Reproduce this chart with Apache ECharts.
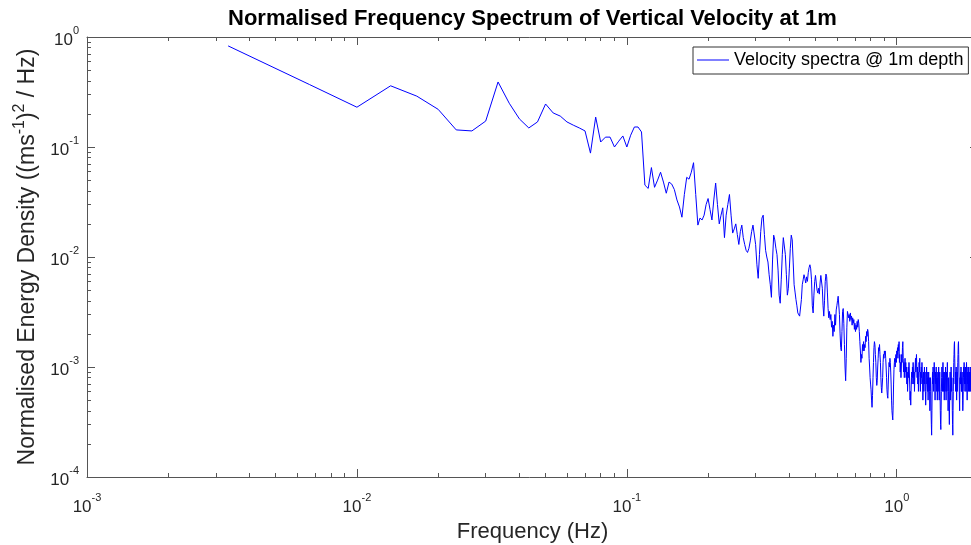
<!DOCTYPE html>
<html><head><meta charset="utf-8">
<script src="https://cdn.jsdelivr.net/npm/echarts@6/dist/echarts.min.js"></script>
<style>html,body{margin:0;padding:0;background:#fff}#c{width:971px;height:545px}</style>
</head><body><div id="c"></div>
<script>
const titleText = 'Normalised Frequency Spectrum of Vertical Velocity at 1m';
const seriesName = 'Velocity spectra @ 1m depth';
const xName = 'Frequency (Hz)';
const freqStep = 1 / 300; // spectral bin width (Hz)

// spectral values, bins 1..60
const specLow = [
 0.83,0.37,0.23,0.36,0.29,0.22,0.143,0.14,0.172,0.39,
 0.25,0.18,0.149,0.169,0.246,0.204,0.191,0.169,0.158,0.149,
 0.14,0.088,0.187,0.111,0.123,0.123,0.10,0.113,0.126,0.10,
 0.128,0.152,0.152,0.137,0.045,0.042,0.065,0.043,0.050,0.059,
 0.048,0.038,0.048,0.046,0.041,0.033,0.0285,0.023,0.037,0.053,
 0.051,0.059,0.072,0.037,0.0195,0.0226,0.0217,0.024,0.030,0.034
];
// bins 61..300
const specMid = [
 0.027,0.0217,0.033,0.047,0.030,0.020,0.024,0.028,0.015,0.024,
 0.030,0.037,0.024,0.0165,0.018,0.020,0.016,0.013,0.017,0.0195,
 0.015,0.013,0.0115,0.011,0.012,0.014,0.017,0.0195,0.020,0.013,
 0.0085,0.0064,0.0105,0.017,0.0226,0.024,0.016,0.0115,0.010,0.009,
 0.0069,0.0056,0.0043,0.0094,0.0158,0.0143,0.012,0.0105,0.0076,0.0045,
 0.0038,0.0062,0.0105,0.015,0.0155,0.0105,0.0069,0.0045,0.0052,0.0078,
 0.012,0.0158,0.0143,0.009,0.0056,0.0048,0.0041,0.0036,0.0031,0.0031,
 0.0029,0.00285,0.0041,0.0056,0.0062,0.0069,0.0064,0.0058,0.0066,0.0060,
 0.0072,0.0080,0.0085,0.0078,0.0062,0.0036,0.0031,0.0045,0.0060,0.0068,
 0.0058,0.0050,0.0047,0.0052,0.0046,0.0058,0.0068,0.0070,0.0052,0.0036,
 0.0029,0.0040,0.0060,0.0070,0.0066,0.0048,0.0034,0.0028,0.0032,0.0027,
 0.0030,0.0023,0.0026,0.0019,0.0024,0.0021,0.0030,0.0024,0.0033,0.0036,
 0.0040,0.0044,0.0043,0.0030,0.0020,0.0015,0.0014,0.0021,0.0032,0.0034,
 0.0025,0.0016,0.0010,0.00075,0.0012,0.0023,0.0032,0.0033,0.0028,0.0030,
 0.0026,0.0031,0.0027,0.0029,0.0024,0.0028,0.0025,0.0027,0.0022,0.0025,
 0.0021,0.0024,0.0022,0.0026,0.0023,0.0027,0.0025,0.0021,0.0017,0.0014,
 0.0011,0.0013,0.0012,0.0016,0.0014,0.0017,0.0014,0.0016,0.0015,0.0019,
 0.0017,0.0021,0.0019,0.0022,0.0021,0.0017,0.0012,0.0010,0.0008,0.0007,
 0.00062,0.0005,0.00043,0.00055,0.0008,0.0011,0.0015,0.0017,0.0016,0.0013,
 0.0011,0.0008,0.00068,0.00075,0.0010,0.0012,0.0015,0.0014,0.0016,0.0013,
 0.0011,0.0008,0.00065,0.00058,0.0006,0.0008,0.0011,0.0013,0.0012,0.0014,
 0.0013,0.0014,0.0012,0.0010,0.0008,0.00062,0.00055,0.00052,0.0007,0.0009,
 0.0011,0.0010,0.0012,0.0011,0.0009,0.0007,0.0005,0.0004,0.00036,0.00033,
 0.00045,0.0007,0.00095,0.0011,0.0012,0.0010,0.0012,0.0013,0.0011,0.0014
];
// bins 301..570
const specHigh = [
 0.0013,0.0015,0.0012,0.0016,0.0014,0.0017,0.0011,0.0013,0.0009,0.0011,
 0.0008,0.0010,0.0013,0.0011,0.0015,0.0017,0.0012,0.0009,0.0011,0.0008,
 0.0010,0.0012,0.0009,0.0011,0.0008,0.0010,0.0007,0.0009,0.0006,0.0008,
 0.0010,0.0008,0.0011,0.0009,0.0007,0.0005,0.0006,0.00045,0.0006,0.0008,
 0.0009,0.0007,0.0010,0.0008,0.0011,0.0009,0.0007,0.0009,0.0006,0.0008,
 0.0010,0.0012,0.0009,0.0011,0.0013,0.0010,0.0008,0.0010,0.0007,0.0009,
 0.0006,0.0008,0.0011,0.0009,0.0012,0.0008,0.0006,0.0009,0.0007,0.0010,
 0.0008,0.0011,0.0009,0.0007,0.0005,0.0007,0.0009,0.0006,0.0008,0.0010,
 0.0007,0.0009,0.0006,0.00045,0.0006,0.0008,0.0010,0.0007,0.0009,0.0006,
 0.0008,0.0005,0.0007,0.0009,0.0006,0.0008,0.0006,0.0004,0.0006,0.0008,
 0.0006,0.0004,0.0003,0.00024,0.0004,0.0007,0.0009,0.0007,0.0010,0.0008,
 0.0006,0.0008,0.0011,0.0009,0.0007,0.0005,0.0007,0.0009,0.0007,0.0010,
 0.0008,0.0006,0.0008,0.0005,0.0007,0.0009,0.0006,0.0008,0.0010,0.0007,
 0.0005,0.0007,0.0009,0.0006,0.0004,0.0003,0.00027,0.0004,0.0006,0.0008,
 0.0010,0.0008,0.0006,0.0008,0.0011,0.0008,0.0006,0.0009,0.0007,0.0005,
 0.0007,0.0009,0.0006,0.0008,0.0010,0.0007,0.0005,0.0007,0.0009,0.0006,
 0.0008,0.0011,0.0008,0.0006,0.0004,0.0006,0.0008,0.0006,0.0004,0.0003,
 0.0005,0.0007,0.0009,0.0007,0.0005,0.0007,0.0010,0.0008,0.0006,0.0008,
 0.0006,0.0004,0.0003,0.00024,0.0004,0.0006,0.0008,0.0011,0.0013,0.0016,
 0.0017,0.0012,0.0009,0.0007,0.0009,0.0006,0.0008,0.0010,0.0007,0.0005,
 0.0007,0.0009,0.0006,0.0008,0.0011,0.0013,0.0016,0.0017,0.0013,0.0009,
 0.0007,0.0005,0.0004,0.0006,0.0008,0.0007,0.0009,0.0007,0.0010,0.0008,
 0.0006,0.0008,0.0006,0.0009,0.0007,0.0005,0.0004,0.00045,0.0006,0.0008,
 0.0010,0.0008,0.0011,0.0009,0.0007,0.0009,0.0006,0.0008,0.0010,0.0007,
 0.0009,0.0006,0.0008,0.0011,0.0009,0.0007,0.0005,0.0007,0.0009,0.0007,
 0.0010,0.0008,0.0006,0.0008,0.0010,0.0007,0.0009,0.0006,0.0008,0.0007,
 0.0009,0.0006,0.0008,0.0010,0.0007,0.0008,0.0006,0.0009,0.0007,0.0008
];

const xMajorTicks = [0.001, 0.01, 0.1, 1];
const yMajorTicks = [0.0001, 0.001, 0.01, 0.1, 1];
const xRange = [0.001, 2];
const yRange = [0.0001, 1];

function minorTicksFor(majors, maxV) {
  const out = [];
  majors.forEach(m => { for (let j = 2; j <= 9; j++) { const v = +(m * j).toPrecision(6); if (v <= maxV) out.push(v); } });
  return out;
}
const xMinorTicks = minorTicksFor(xMajorTicks, xRange[1]);
const yMinorTicks = minorTicksFor(yMajorTicks.slice(0, -1), yRange[1]);

const spectrum = specLow.concat(specMid, specHigh);
const seriesData = spectrum.map((v, i) => [(i + 1) * freqStep, v]);

const FONT = "'Liberation Sans', Arial, Helvetica, sans-serif";
const AX = '#555555';
const TXT = '#262626';

function powLabel(v) {
  const e = Math.round(Math.log10(v));
  return '{b|10}{s|' + e + '}';
}
const labelRich = {
  b: { fontSize: 17, fontFamily: FONT, color: TXT, lineHeight: 24, verticalAlign: 'bottom' },
  s: { fontSize: 11, fontFamily: FONT, color: TXT, lineHeight: 11, verticalAlign: 'top' }
};

function logX(extra) {
  return Object.assign({ type: 'log', logBase: 10, min: xRange[0], max: xRange[1], gridIndex: 0,
    splitLine: { show: false }, minorTick: { show: false }, axisPointer: { show: false } }, extra);
}
function logY(extra) {
  return Object.assign({ type: 'log', logBase: 10, min: yRange[0], max: yRange[1], gridIndex: 0,
    splitLine: { show: false }, minorTick: { show: false }, axisPointer: { show: false } }, extra);
}

const chart = echarts.init(document.getElementById('c'), null, { renderer: 'canvas' });
chart.setOption({
  animation: false,
  backgroundColor: '#ffffff',
  title: {
    text: titleText, left: 223, top: 3,
    textStyle: { fontSize: 22, fontWeight: 'bold', color: '#000', fontFamily: FONT }
  },
  legend: {
    left: 693, top: 47, itemWidth: 32, itemHeight: 1, padding: [4, 5, 5, 4],
    borderColor: '#333', borderWidth: 1, borderRadius: 0, backgroundColor: '#fff',
    textStyle: { fontSize: 18, color: '#000', fontFamily: FONT },
    data: [{ name: seriesName, icon: 'rect', itemStyle: { color: '#0000ff' } }]
  },
  grid: { left: 87, top: 37, width: 891, height: 440, containLabel: false, outerBoundsMode: 'none' },
  xAxis: [
    logX({ position: 'bottom',
      axisLine: { show: true, onZero: false, lineStyle: { color: AX, width: 1 } },
      axisTick: { show: true, inside: true, length: 8, customValues: xMajorTicks, lineStyle: { color: AX } },
      axisLabel: { show: true, customValues: xMajorTicks, formatter: powLabel, rich: labelRich, margin: 15 },
      name: xName, nameLocation: 'middle', nameGap: 44,
      nameTextStyle: { fontSize: 22, color: TXT, fontFamily: FONT } }),
    logX({ position: 'bottom', axisLine: { show: false },
      axisTick: { show: true, inside: true, length: 4, customValues: xMinorTicks, lineStyle: { color: AX } },
      axisLabel: { show: false } }),
    logX({ position: 'top',
      axisLine: { show: true, onZero: false, lineStyle: { color: AX, width: 1 } },
      axisTick: { show: true, inside: true, length: 8, customValues: xMajorTicks, lineStyle: { color: AX } },
      axisLabel: { show: false } }),
    logX({ position: 'top', axisLine: { show: false },
      axisTick: { show: true, inside: true, length: 4, customValues: xMinorTicks, lineStyle: { color: AX } },
      axisLabel: { show: false } })
  ],
  yAxis: [
    logY({ position: 'left',
      axisLine: { show: true, onZero: false, lineStyle: { color: AX, width: 1 } },
      axisTick: { show: true, inside: true, length: 8, customValues: yMajorTicks, lineStyle: { color: AX } },
      axisLabel: { show: true, customValues: yMajorTicks, formatter: powLabel, rich: labelRich, margin: 8 },
      name: '{n|Normalised Energy Density ((ms}{s|-1}{n|)}{s|2}{n| / Hz)}',
      nameLocation: 'middle', nameGap: 43, nameRotate: 90,
      nameTextStyle: { fontFamily: FONT, color: TXT,
        rich: { n: { fontSize: 23, fontFamily: FONT, color: TXT, lineHeight: 28, verticalAlign: 'bottom' },
                s: { fontSize: 16, fontFamily: FONT, color: TXT, lineHeight: 16, verticalAlign: 'top' } } } }),
    logY({ position: 'left', axisLine: { show: false },
      axisTick: { show: true, inside: true, length: 4, customValues: yMinorTicks, lineStyle: { color: AX } },
      axisLabel: { show: false } }),
    logY({ position: 'right',
      axisLine: { show: true, onZero: false, lineStyle: { color: AX, width: 1 } },
      axisTick: { show: true, inside: true, length: 8, customValues: yMajorTicks, lineStyle: { color: AX } },
      axisLabel: { show: false } })
  ],
  series: [{
    name: seriesName, type: 'line', xAxisIndex: 0, yAxisIndex: 0,
    data: seriesData, showSymbol: false, symbol: 'none',
    lineStyle: { width: 1, color: '#0000ff' }, itemStyle: { color: '#0000ff' },
    emphasis: { disabled: true }, z: 2
  }]
});
</script>
</body></html>
